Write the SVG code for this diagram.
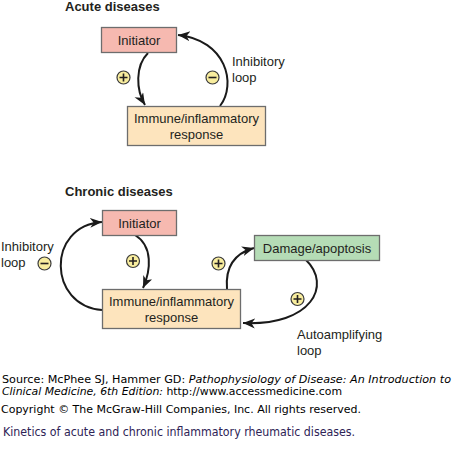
<svg xmlns="http://www.w3.org/2000/svg" width="452" height="475" viewBox="0 0 452 475">
<defs>
<style>
.lbl{font-family:"Liberation Sans",Arial,sans-serif;font-size:13px;fill:#231f20}
.ttl{font-family:"Liberation Sans",Arial,sans-serif;font-size:13px;font-weight:bold;fill:#231f20}
.box{stroke:#6d6d6d;stroke-width:1.3}
.ini{fill:#f6b9b0}
.imm{fill:#fde4bd}
.dam{fill:#b5dcb6}
.sign{fill:#f8ed9e;stroke:#3a3a3a;stroke-width:1.2}
.sgl{stroke:#231f20;stroke-width:1.6;fill:none}
.arr{fill:none;stroke:#1a1a1a;stroke-width:2;marker-end:url(#ah)}
.src{font-family:"DejaVu Sans",Verdana,sans-serif;font-size:10px;fill:#000}
.cap{font-family:"DejaVu Sans",Tahoma,sans-serif;font-size:12px;fill:#2e2356}
</style>
<marker id="ah" markerUnits="userSpaceOnUse" markerWidth="14" markerHeight="12" refX="12" refY="5" orient="auto">
<path d="M0,0 L12,5 L0,10 L3.5,5 z" fill="#1a1a1a"/>
</marker>
</defs>
<rect width="452" height="475" fill="#fff"/>

<text class="ttl" x="65" y="11">Acute diseases</text>
<text class="ttl" x="65" y="196">Chronic diseases</text>

<g id="connectors">
<path class="arr" d="M148,53 C135,66 136,90 145,105"/>
<path class="arr" d="M220,106 C237,84 226,40 178,35"/>
<path class="arr" d="M102,310 C48,306 46,226 102,222"/>
<path class="arr" d="M135,235 C153,246 151,270 143,288"/>
<path class="arr" d="M227,289 C225,266 236,253 254,248"/>
<path class="arr" d="M306,260 C332,285 312,326 243,323"/>
</g>

<g id="acute-initiator">
<rect class="box ini" x="101.5" y="27.5" width="75" height="25"/>
<text class="lbl" x="139" y="44.5" text-anchor="middle">Initiator</text>
</g>
<g id="acute-immune">
<rect class="box imm" x="127.5" y="106.5" width="138" height="39"/>
<text class="lbl" x="196.5" y="123" text-anchor="middle">Immune/inflammatory</text>
<text class="lbl" x="196.5" y="139" text-anchor="middle">response</text>
</g>
<g id="acute-plus">
<circle class="sign" cx="123.5" cy="77.5" r="6.5"/>
<path class="sgl" d="M119.5,77.5 H127.5 M123.5,73.5 V81.5"/>
</g>
<g id="acute-minus">
<circle class="sign" cx="212.5" cy="77.5" r="6.5"/>
<path class="sgl" d="M208.5,77.5 H216.5"/>
</g>
<g id="acute-inhibitory-label">
<text class="lbl" x="232" y="66">Inhibitory</text>
<text class="lbl" x="232" y="82">loop</text>
</g>

<g id="chronic-initiator">
<rect class="box ini" x="102.5" y="210.5" width="74" height="25"/>
<text class="lbl" x="139.5" y="227.5" text-anchor="middle">Initiator</text>
</g>
<g id="chronic-immune">
<rect class="box imm" x="102.5" y="289.5" width="138" height="39"/>
<text class="lbl" x="171.5" y="306" text-anchor="middle">Immune/inflammatory</text>
<text class="lbl" x="171.5" y="322" text-anchor="middle">response</text>
</g>
<g id="chronic-damage">
<rect class="box dam" x="254.5" y="235.5" width="125" height="25"/>
<text class="lbl" x="317" y="252.5" text-anchor="middle">Damage/apoptosis</text>
</g>
<g id="chronic-inhibitory-label">
<text class="lbl" x="1" y="251">Inhibitory</text>
<text class="lbl" x="1" y="267">loop</text>
</g>
<g id="chronic-minus">
<circle class="sign" cx="44.5" cy="263.5" r="6.5"/>
<path class="sgl" d="M40.5,263.5 H48.5"/>
</g>
<g id="chronic-plus-1">
<circle class="sign" cx="133" cy="261" r="6.5"/>
<path class="sgl" d="M129,261 H137 M133,257 V265"/>
</g>
<g id="chronic-plus-2">
<circle class="sign" cx="218.5" cy="263.5" r="6.5"/>
<path class="sgl" d="M214.5,263.5 H222.5 M218.5,259.5 V267.5"/>
</g>
<g id="chronic-plus-3">
<circle class="sign" cx="297.5" cy="299" r="6.5"/>
<path class="sgl" d="M293.5,299 H301.5 M297.5,295 V303"/>
</g>
<g id="autoamplifying-label">
<text class="lbl" x="297" y="339">Autoamplifying</text>
<text class="lbl" x="297" y="355">loop</text>
</g>

<text class="src" x="2" y="383" textLength="449" lengthAdjust="spacingAndGlyphs">Source: McPhee SJ, Hammer GD: <tspan font-style="italic">Pathophysiology of Disease: An Introduction to</tspan></text>
<text class="src" x="2" y="395" textLength="340" lengthAdjust="spacingAndGlyphs"><tspan font-style="italic">Clinical Medicine, 6th Edition:</tspan> http://www.accessmedicine.com</text>
<text class="src" x="1" y="413" textLength="360" lengthAdjust="spacingAndGlyphs">Copyright © The McGraw-Hill Companies, Inc. All rights reserved.</text>
<text class="cap" x="3" y="436" textLength="352" lengthAdjust="spacingAndGlyphs">Kinetics of acute and chronic inflammatory rheumatic diseases.</text>
</svg>
